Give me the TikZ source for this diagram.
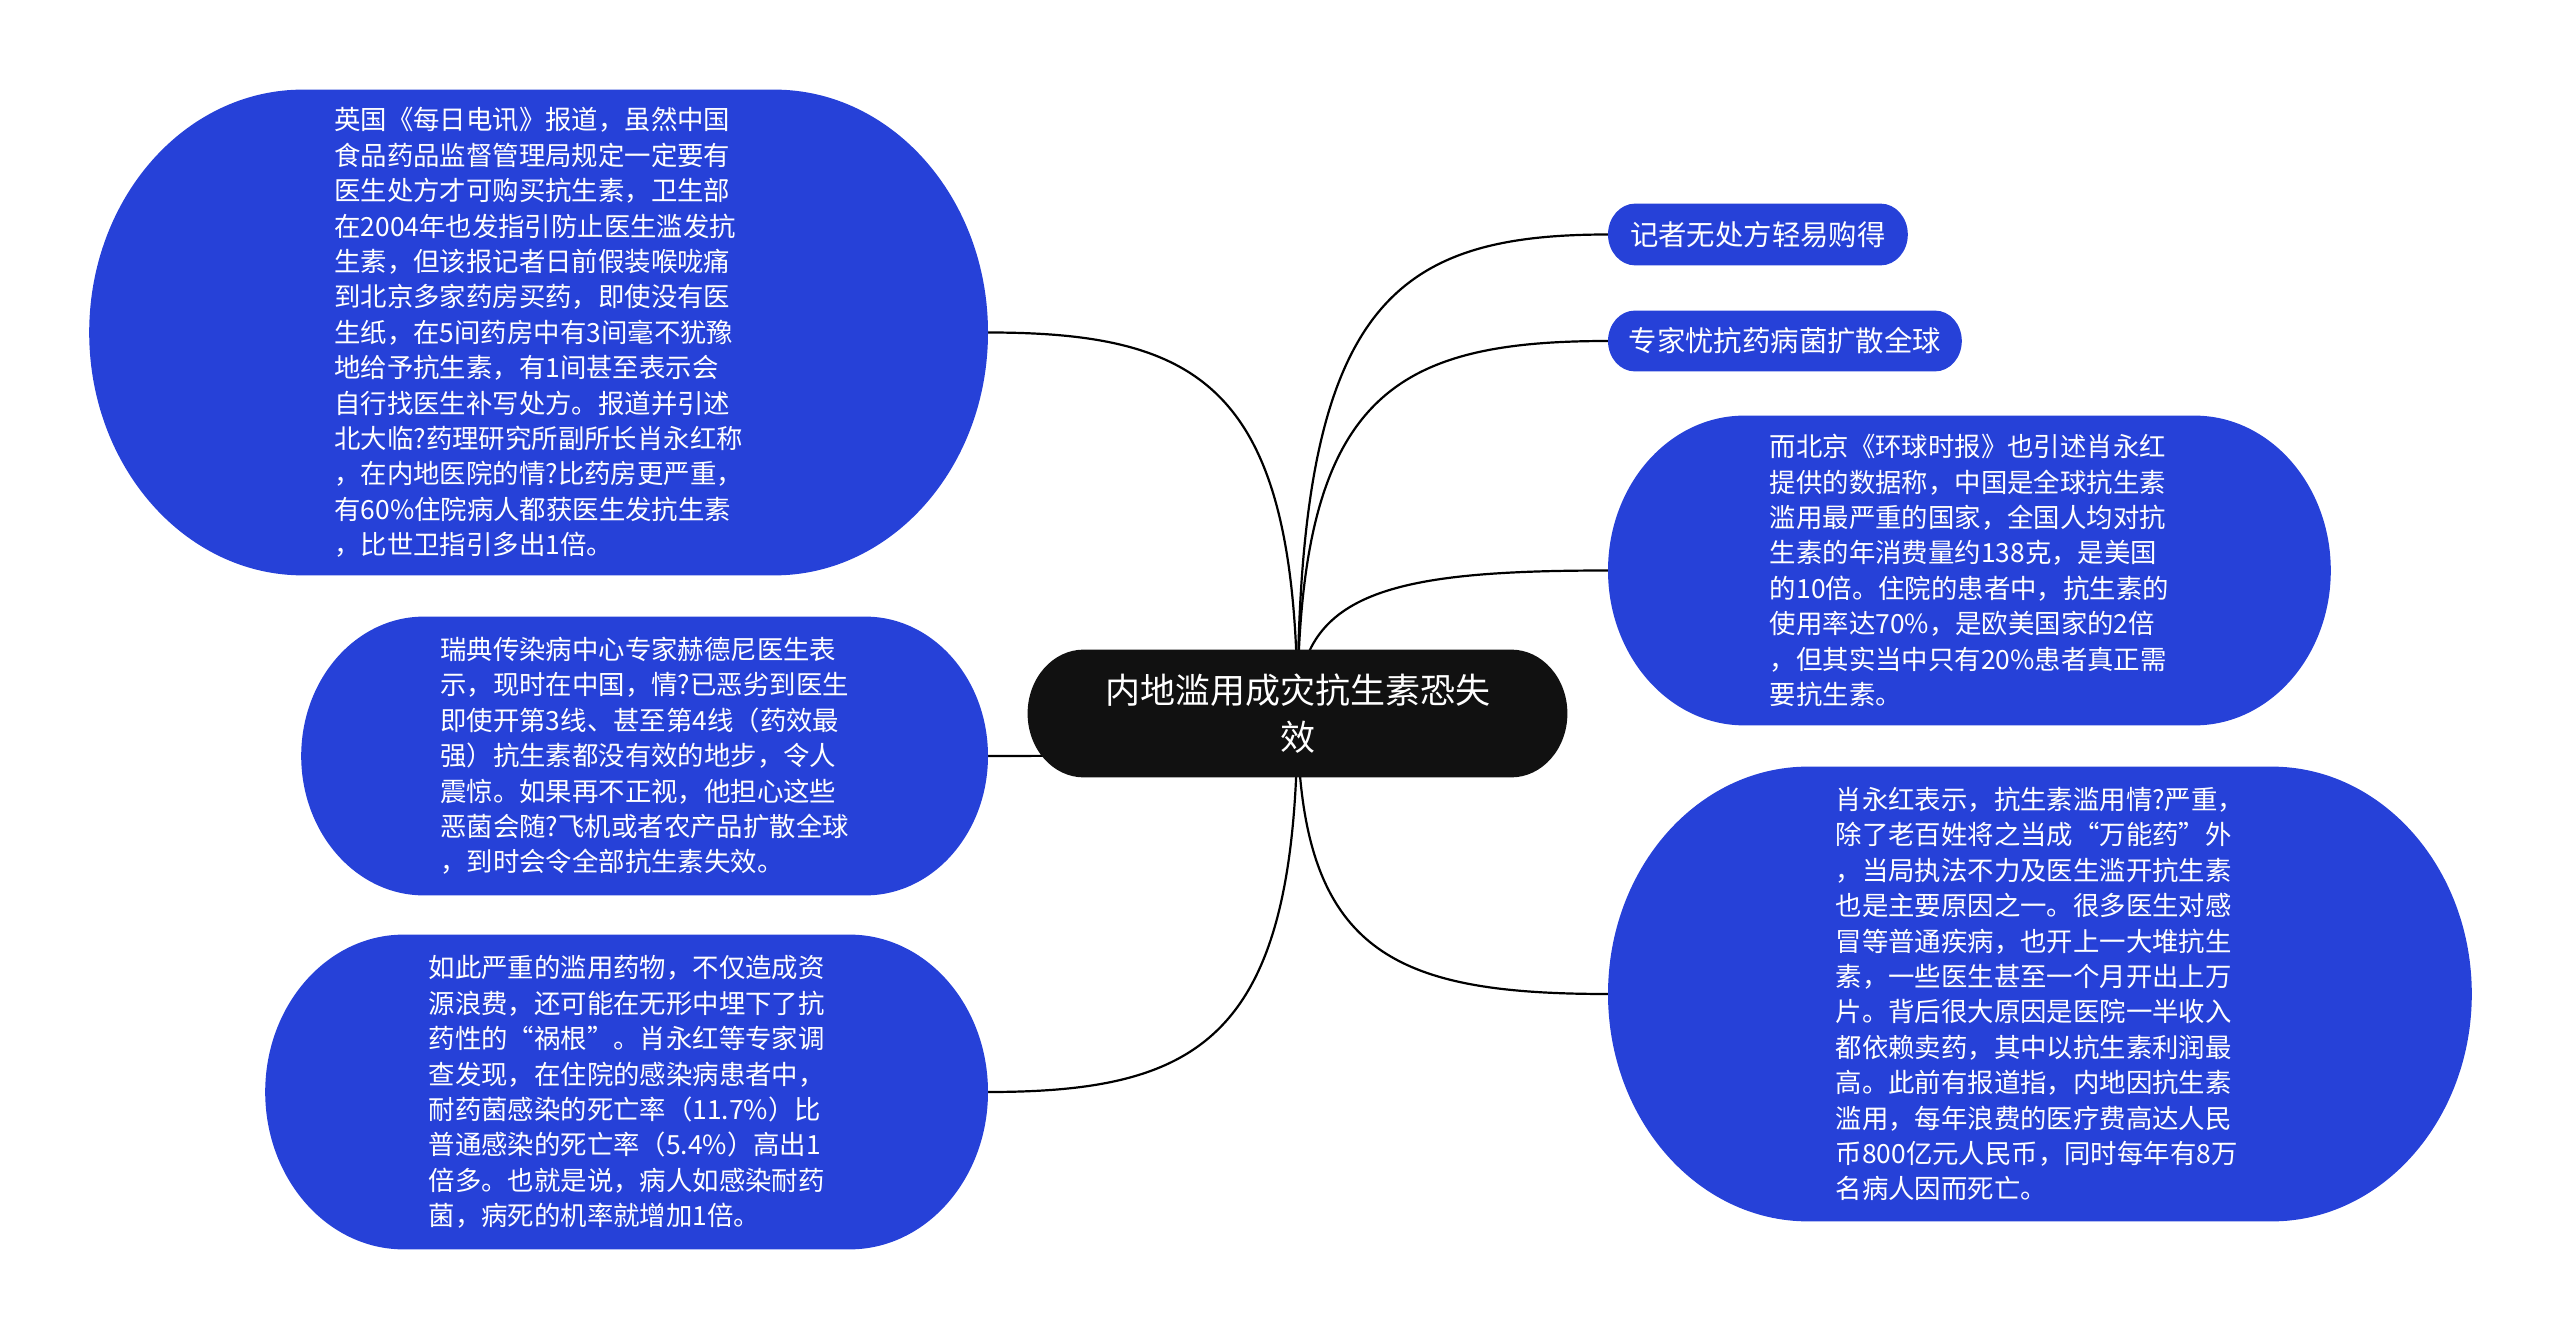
\documentclass[tikz,border=0pt]{standalone}
\usepackage{fontspec}
\newfontfamily\cjkfont{Noto Sans CJK SC}
\usetikzlibrary{calc, positioning}

\definecolor{topicblue}{HTML}{2641D8}
\definecolor{rootblack}{HTML}{111111}

\pgfdeclarelayer{wires}
\pgfdeclarelayer{shapes}
\pgfsetlayers{wires,shapes,main}

\tikzset{
	topic/.style={text=white, align=left, inner sep=0pt,
		font=\cjkfont\fontsize{13.2pt}{17.7pt}\selectfont},
	subject/.style={topic, font=\cjkfont\fontsize{14.2pt}{18pt}\selectfont},
	root/.style={text=white, align=center, inner sep=0pt,
		font=\cjkfont\fontsize{17.5pt}{23.5pt}\selectfont},
	wire/.style={line width=1.1pt, black},
}

% flat top and bottom, half-ellipse ends, drawn behind the node
\newcommand\blob[2]{%
	\begin{pgfonlayer}{shapes}
	\fill[#2] let \p1=(#1.south west), \p2=(#1.north east),
		\n1={0.44*(\y2-\y1)}, \n2={0.5*(\y2-\y1)} in
		(\x1+\n1,\y1) -- (\x2-\n1,\y1)
		arc[start angle=-90, end angle=90, x radius=\n1, y radius=\n2]
		-- (\x1+\n1,\y2)
		arc[start angle=90, end angle=270, x radius=\n1, y radius=\n2]
		-- cycle;
	\end{pgfonlayer}}

\begin{document}
\begin{tikzpicture}[x=0.5pt, y=-0.5pt]
	\useasboundingbox (0,0) rectangle (2560,1336);
	
	\node[root, minimum width=269.5pt, minimum height=63.5pt] (root) at (1297.5,713.5)
	{内地滥用成灾抗生素恐失\\效};
	\blob{root}{rootblack}
	
	% left side
	\node[topic, anchor=east, minimum width=449pt, minimum height=242.5pt] (daily) at (988,332.5)
	{英国《每日电讯》报道，虽然中国\\食品药品监督管理局规定一定要有\\医生处方才可购买抗生素，卫生部\\在2004年也发指引防止医生滥发抗\\生素，但该报记者日前假装喉咙痛\\到北京多家药房买药，即使没有医\\生纸，在5间药房中有3间毫不犹豫\\地给予抗生素，有1间甚至表示会\\自行找医生补写处方。报道并引述\\北大临?药理研究所副所长肖永红称\\，在内地医院的情?比药房更严重，\\有60\%住院病人都获医生发抗生素\\，比世卫指引多出1倍。};
	\blob{daily}{topicblue}
	
	\node[topic, anchor=east, minimum width=343pt, minimum height=139pt] (sweden) at (988,756)
	{瑞典传染病中心专家赫德尼医生表\\示，现时在中国，情?已恶劣到医生\\即使开第3线、甚至第4线（药效最\\强）抗生素都没有效的地步，令人\\震惊。如果再不正视，他担心这些\\恶菌会随?飞机或者农产品扩散全球\\，到时会令全部抗生素失效。};
	\blob{sweden}{topicblue}
	
	\node[topic, anchor=east, minimum width=361pt, minimum height=157pt] (waste) at (988,1092)
	{如此严重的滥用药物，不仅造成资\\源浪费，还可能在无形中埋下了抗\\药性的“祸根”。肖永红等专家调\\查发现，在住院的感染病患者中，\\耐药菌感染的死亡率（11.7\%）比\\普通感染的死亡率（5.4\%）高出1\\倍多。也就是说，病人如感染耐药\\菌，病死的机率就增加1倍。};
	\blob{waste}{topicblue}
	
	% right side
	\node[subject, anchor=west, minimum width=149.5pt, minimum height=30.5pt] (buy) at (1608,234.5)
	{记者无处方轻易购得};
	\blob{buy}{topicblue}
	
	\node[subject, anchor=west, minimum width=176.5pt, minimum height=30pt] (spread) at (1608,341)
	{专家忧抗药病菌扩散全球};
	\blob{spread}{topicblue}
	
	\node[topic, anchor=west, minimum width=361pt, minimum height=154.5pt] (huanqiu) at (1608,570.5)
	{而北京《环球时报》也引述肖永红\\提供的数据称，中国是全球抗生素\\滥用最严重的国家，全国人均对抗\\生素的年消费量约138克，是美国\\的10倍。住院的患者中，抗生素的\\使用率达70\%，是欧美国家的2倍\\，但其实当中只有20\%患者真正需\\要抗生素。};
	\blob{huanqiu}{topicblue}
	
	\node[topic, anchor=west, minimum width=431.5pt, minimum height=227pt] (xiao) at (1608,994)
	{肖永红表示，抗生素滥用情?严重，\\除了老百姓将之当成“万能药”外\\，当局执法不力及医生滥开抗生素\\也是主要原因之一。很多医生对感\\冒等普通疾病，也开上一大堆抗生\\素，一些医生甚至一个月开出上万\\片。背后很大原因是医院一半收入\\都依赖卖药，其中以抗生素利润最\\高。此前有报道指，内地因抗生素\\滥用，每年浪费的医疗费高达人民\\币800亿元人民币，同时每年有8万\\名病人因而死亡。};
	\blob{xiao}{topicblue}
	
	\begin{pgfonlayer}{wires}
	\foreach \t/\a in {daily/east, sweden/east, waste/east, buy/west, spread/west, huanqiu/west, xiao/west}
	\draw[wire] (root.center)
	.. controls ($(root.center)!0.85!(root.center |- \t.\a)$)
	and ($(\t.\a)!0.7!(root.center |- \t.\a)$) .. (\t.\a);
	\end{pgfonlayer}
\end{tikzpicture}
\end{document}
